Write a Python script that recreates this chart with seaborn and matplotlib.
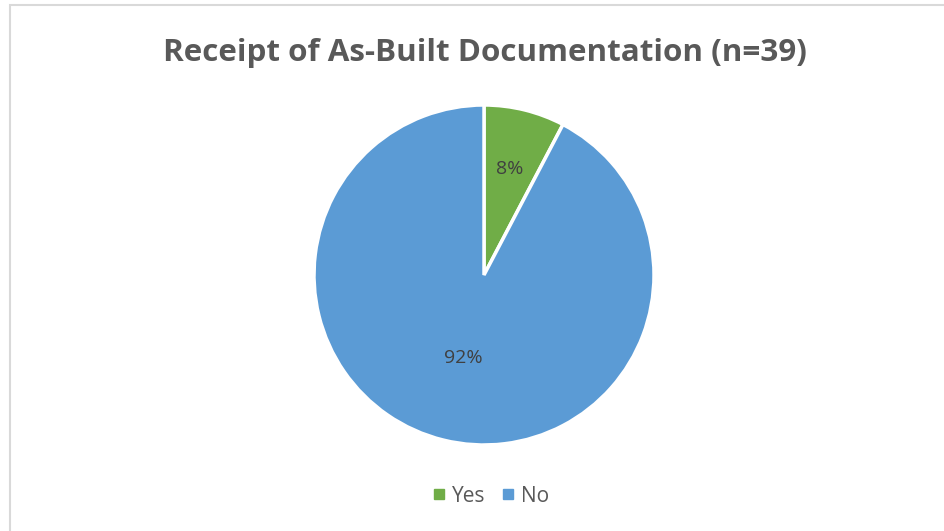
import matplotlib
matplotlib.use("Agg")
import matplotlib.pyplot as plt
import seaborn as sns
import numpy as np
from matplotlib.patches import Rectangle
from matplotlib.lines import Line2D

# Survey responses (n=39)
categories = ["Yes", "No"]
counts = [3, 36]
colors = ["#70AD47", "#5B9BD5"]
title = "Receipt of As-Built Documentation (n=39)"

sns.set_theme(style="white")
plt.rcParams["font.family"] = ["Open Sans", "DejaVu Sans"]

fig = plt.figure(figsize=(9.44, 5.31), dpi=100)
fig.patch.set_facecolor("white")

# light frame around the chart area
fig.add_artist(Rectangle((10 / 944, -0.05), 1.0, 1 - 5.5 / 531 + 0.05,
                         transform=fig.transFigure, fill=False,
                         edgecolor="#D9D9D9", linewidth=1.5))

# pie area: center (484, 275) px, radius ~170 px
r = 170
cx, cy = 484, 531 - 275
ax = fig.add_axes([(cx - r) / 944, (cy - r) / 531, 2 * r / 944, 2 * r / 531])

wedges, texts, autotexts = ax.pie(
    counts, colors=colors, startangle=90, counterclock=False,
    autopct=lambda p: f"{p:.0f}%", radius=1.0,
    wedgeprops=dict(edgecolor="white", linewidth=2.5),
    textprops=dict(color="#404040", fontsize=14),
)
# label distance from center per slice
dists = [0.64, 0.50]
for w, t, d in zip(wedges, autotexts, dists):
    ang = np.deg2rad((w.theta1 + w.theta2) / 2)
    t.set_position((d * np.cos(ang), d * np.sin(ang)))
ax.set_xlim(-1, 1)
ax.set_ylim(-1, 1)
ax.set_aspect("equal")

fig.text(485 / 944, 1 - 53 / 531, title, ha="center", va="center",
         fontsize=22.6, fontweight="bold", color="#595959")

handles = [Line2D([], [], marker="s", linestyle="", markersize=7,
                  markerfacecolor=c, markeredgecolor=c) for c in colors]
fig.legend(handles, categories, loc="center", bbox_to_anchor=(490 / 944, 1 - 496 / 531),
           ncol=2, frameon=False, fontsize=15, labelcolor="#595959",
           handletextpad=0.2, columnspacing=0.7, handlelength=0.8)

fig.savefig("out.png", dpi=100, facecolor="white")
